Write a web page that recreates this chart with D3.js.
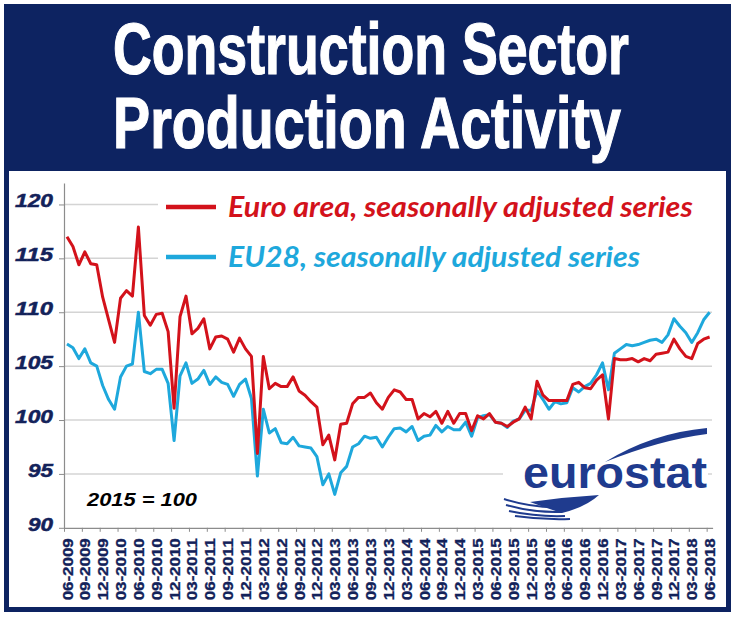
<!DOCTYPE html>
<html><head><meta charset="utf-8">
<script src="https://cdn.jsdelivr.net/npm/d3@7"></script>
<style>body{margin:0;background:#fff}svg{display:block}</style>
</head><body>
<svg id="c" width="734" height="617"></svg>
<script>
const titleLines = ["Construction Sector", "Production Activity"];
const seriesNames = ["Euro area, seasonally adjusted series", "EU28, seasonally adjusted series"];
const tickLabels = ["06-2009","09-2009","12-2009","03-2010","06-2010","09-2010","12-2010",
  "03-2011","06-2011","09-2011","12-2011","03-2012","06-2012","09-2012","12-2012",
  "03-2013","06-2013","09-2013","12-2013","03-2014","06-2014","09-2014","12-2014",
  "03-2015","06-2015","09-2015","12-2015","03-2016","06-2016","09-2016","12-2016",
  "03-2017","06-2017","09-2017","12-2017","03-2018","06-2018"];
const yTicks = [90, 95, 100, 105, 110, 115, 120];
const baseNote = "2015 = 100";
const logoText = "eurostat";

// monthly values, 06-2009 .. 06-2018
const euroArea = [117.0,116.1,114.4,115.6,114.5,114.4,111.4,109.3,107.2,111.3,112.0,111.5,
  117.9,109.7,108.8,109.8,109.9,108.2,101.1,109.6,111.5,108.0,108.5,109.4,
  106.6,107.7,107.8,107.5,106.3,107.6,106.6,105.9,96.9,105.9,102.9,103.4,
  103.1,103.1,104.0,102.7,102.3,101.7,101.2,97.7,98.6,96.3,99.6,99.7,
  101.5,102.1,102.1,102.5,101.6,101.0,102.1,102.8,102.6,101.9,101.9,100.1,
  100.6,100.3,100.8,99.7,100.8,99.7,100.6,100.6,99.0,100.4,100.1,100.6,
  99.8,99.7,99.4,99.8,100.1,101.2,100.1,103.6,102.3,101.8,101.8,101.8,
  101.8,103.3,103.5,103.0,102.9,103.7,104.2,100.1,105.7,105.6,105.6,105.7,
  105.4,105.7,105.5,106.1,106.2,106.3,107.5,106.6,105.9,105.7,107.1,107.5,107.7];
const eu28 = [107.05,106.7,105.7,106.6,105.3,105.0,103.2,101.9,101.0,104.0,105.0,105.2,
  110.0,104.5,104.3,104.7,104.7,103.4,98.1,104.1,105.3,103.4,103.8,104.6,
  103.3,104.0,103.5,103.3,102.2,103.3,103.8,102.0,94.8,101.0,98.8,99.2,
  97.9,97.8,98.4,97.6,97.5,97.4,96.6,94.0,95.0,93.1,95.1,95.7,
  97.5,97.8,98.5,98.3,98.4,97.5,98.4,99.2,99.25,98.9,99.4,98.1,
  98.5,98.6,99.5,98.9,99.4,99.1,99.1,99.8,98.5,100.2,100.4,100.5,
  99.8,99.7,99.3,99.9,100.1,100.9,100.9,102.7,101.9,101.0,101.7,101.5,
  101.6,103.0,102.6,103.1,103.4,104.2,105.3,102.8,106.2,106.6,107.0,106.9,
  107.0,107.2,107.4,107.5,107.2,107.9,109.4,108.7,108.1,107.2,108.1,109.3,110.0];

const NAVY = "#0d2361", RED = "#d3121b", BLUE = "#1ea8dc", LABEL = "#13225a";
const svg = d3.select("#c");

// helper: fit a text horizontally with a scale transform
function fitText(sel, cx, base, targetW, anchor) {
  const node = sel.node();
  const w = node.getComputedTextLength();
  const s = targetW / w;
  sel.attr("x", 0).attr("y", 0)
     .attr("transform", `translate(${cx},${base}) scale(${s},1)`);
}

// frame & banner
svg.append("rect").attr("x",4).attr("y",4).attr("width",727).attr("height",608).attr("fill",NAVY);
svg.append("rect").attr("x",9).attr("y",171).attr("width",717).attr("height",436).attr("fill","#fff");

titleLines.forEach((t,i)=>{
  const el = svg.append("text").attr("text-anchor","middle").attr("fill","#fff")
    .attr("stroke","#fff").attr("stroke-width",1.2)
    .attr("font-family","'Liberation Sans Narrow','Liberation Sans',Arial,sans-serif")
    .attr("font-weight","bold").attr("font-size",72).text(t);
  fitText(el, i===0 ? 371 : 367, i===0 ? 74 : 148, i===0 ? 516 : 508);
});

const N = euroArea.length;
const x = d3.scaleLinear().domain([0, N]).range([64, 712.6]);
const y = d3.scaleLinear().domain([90, 122]).range([527.8, 182.9]);

// gridlines
svg.append("g").selectAll("line").data(yTicks.filter(v=>v>90)).join("line")
  .attr("x1",64).attr("x2",712).attr("y1",d=>y(d)).attr("y2",d=>y(d))
  .attr("stroke","#d4d4d4").attr("stroke-width",1.5);

// legend & logo backgrounds
svg.append("rect").attr("x",158).attr("y",184).attr("width",554).attr("height",92).attr("fill","#fff");
svg.append("rect").attr("x",503).attr("y",426).attr("width",205).attr("height",96).attr("fill","#fff");

// y axis
const yAx = svg.append("g").attr("transform","translate(64,0)")
  .call(d3.axisLeft(y).tickValues(yTicks).tickSize(5).tickPadding(6).tickSizeOuter(0));
yAx.select(".domain").attr("stroke","#8c8c8c").attr("stroke-width",1.2);
yAx.selectAll(".tick line").attr("stroke","#8c8c8c");
yAx.selectAll(".tick text").attr("dy",2.5)
  .attr("font-family","'Liberation Sans',Arial,sans-serif").attr("font-weight","bold")
  .attr("font-style","italic").attr("font-size",18).attr("fill",LABEL)
  .attr("stroke",LABEL).attr("stroke-width",0.5)
  .attr("textLength",d=> d>=100 ? 38 : 25).attr("lengthAdjust","spacingAndGlyphs");

// x axis ticks (quarter boundaries)
const xAx = svg.append("g").attr("transform","translate(0,527.8)")
  .call(d3.axisBottom(x).tickValues(d3.range(0, N+1, 3)).tickSize(4).tickFormat("").tickSizeOuter(0));
xAx.select(".domain").attr("stroke","#8c8c8c").attr("stroke-width",1.2);
xAx.selectAll(".tick line").attr("stroke","#8c8c8c");

// x labels
const xLab = svg.append("g").attr("transform","translate(0,527.8)")
  .call(d3.axisBottom(x).tickValues(tickLabels.map((d,k)=>k*3+0.5)).tickSize(0)
    .tickFormat((d,k)=>tickLabels[k]));
xLab.select(".domain").remove();
xLab.selectAll(".tick text")
  .attr("transform","rotate(-90)").attr("text-anchor","end")
  .attr("x",-10.5).attr("y",0).attr("dy","0.36em")
  .attr("font-family","'Liberation Sans',Arial,sans-serif").attr("font-weight","bold")
  .attr("font-size",14).attr("fill",LABEL).attr("stroke",LABEL).attr("stroke-width",0.3)
  .attr("textLength",62).attr("lengthAdjust","spacingAndGlyphs");

// lines
const line = d3.line().x((d,i)=>x(i+0.5)).y(d=>y(d));
svg.append("path").datum(eu28).attr("d",line).attr("fill","none")
  .attr("stroke",BLUE).attr("stroke-width",3).attr("stroke-linejoin","round");
svg.append("path").datum(euroArea).attr("d",line).attr("fill","none")
  .attr("stroke",RED).attr("stroke-width",3).attr("stroke-linejoin","round");

// legend
const legColors = [RED, BLUE];
const legY = [207, 257];
const legW = [465, 412];
seriesNames.forEach((name,i)=>{
  svg.append("line").attr("x1",166).attr("x2",216).attr("y1",legY[i]).attr("y2",legY[i])
    .attr("stroke",legColors[i]).attr("stroke-width",4.5);
  const el = svg.append("text")
    .attr("font-family","Lato,'Open Sans',sans-serif").attr("font-weight","bold")
    .attr("font-style","italic").attr("font-size",28).attr("fill",legColors[i]).text(name);
  fitText(el, 228, legY[i]+10, legW[i]);
});

// base note
svg.append("text").attr("x",87).attr("y",506)
  .attr("font-family","'Liberation Sans',Arial,sans-serif").attr("font-weight","bold")
  .attr("font-style","italic").attr("font-size",19).attr("fill","#000")
  .attr("textLength",110).attr("lengthAdjust","spacingAndGlyphs").text(baseNote);

// eurostat logo
const LOGO = "#1f3b8e";
svg.append("path").attr("fill",LOGO)
  .attr("d","M605,462 Q652,433 707,428 L707,434 Q660,440 605,462 Z");
svg.append("text").attr("x",523).attr("y",488)
  .attr("font-family","'Liberation Sans',Arial,sans-serif").attr("font-weight","bold")
  .attr("font-size",44).attr("fill",LOGO)
  .attr("textLength",184).attr("lengthAdjust","spacingAndGlyphs").text(logoText);
svg.append("path").attr("fill",LOGO)
  .attr("d","M530,502 Q565,497 599,495 Q586,507 562,513 Q546,508 530,502 Z");
[[504,499,560,507],[506,505,562,512],[509,511,565,516],[515,516,570,519]].forEach(s=>{
  svg.append("path").attr("fill","none").attr("stroke",LOGO).attr("stroke-width",2)
    .attr("d",`M${s[0]},${s[1]} Q${(s[0]+s[2])/2},${s[3]+1} ${s[2]},${s[3]}`);
});
</script>
</body></html>
